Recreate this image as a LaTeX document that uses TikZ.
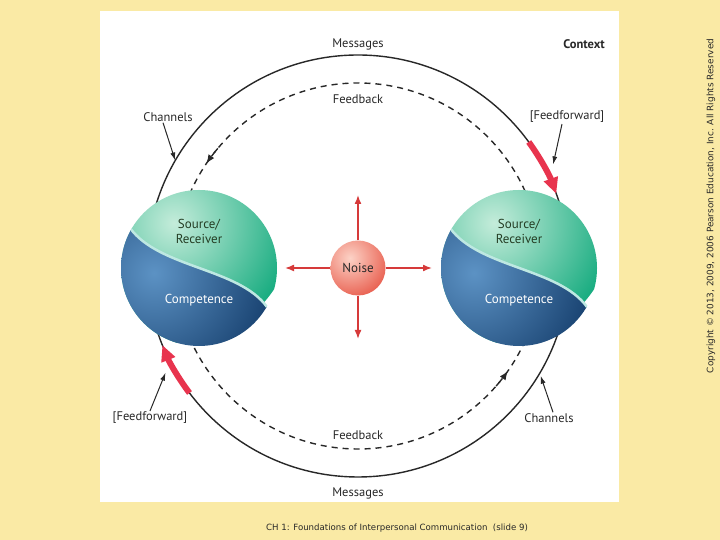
\documentclass[tikz,border=0pt]{standalone}
\usepackage{fontspec}
\setmainfont{PT Sans}
\newfontfamily\slidefont{DejaVu Sans}
\usetikzlibrary{arrows.meta}

\definecolor{paper}{RGB}{250,234,165}
\definecolor{mint}{RGB}{196,236,218}
\definecolor{sea}{RGB}{24,172,128}
\definecolor{skyblue}{RGB}{92,146,196}
\definecolor{navy}{RGB}{16,56,102}
\definecolor{divider}{RGB}{190,232,226}
\definecolor{noisered}{RGB}{214,58,58}
\definecolor{noiselight}{RGB}{252,210,198}
\definecolor{noisedark}{RGB}{232,92,76}
\definecolor{ffred}{RGB}{232,52,78}
\definecolor{ink}{RGB}{40,40,40}

\begin{document}
\begin{tikzpicture}[x=1pt,y=1pt]
	\tikzset{tag/.style={font=\fontsize{12.5}{14}\selectfont, text=ink, inner sep=1pt, align=center},
		balltag/.style={font=\fontsize{13}{15}\selectfont, inner sep=1pt, align=center},
		note/.style={draw=ink, line width=1pt, -{Latex[length=8pt,width=5pt]}},
		msgline/.style={draw=ink, line width=1.4pt},
		fbline/.style={draw=ink, line width=1.4pt, dash pattern=on 6pt off 5pt},
		ffarrow/.style={draw=ffred, line width=6pt, -{Triangle[length=16pt,width=14pt]}},
		noisearrow/.style={draw=noisered, line width=1.6pt, -{Latex[length=9pt,width=7pt]}},
		% shaded ball with green top and blue bottom
		sphere/.style={circle, minimum size=156pt, inner sep=0pt,
			path picture={
				\begin{scope}[shift={(path picture bounding box.center)}]
					\shade[inner color=mint, outer color=sea] (-25,45) circle (120);
					\begin{scope}
						\clip (-69,40) .. controls (-40,0) and (40,0) .. (68,-39) -- (100,-39)
						-- (100,-100) -- (-100,-100) -- (-100,40) -- cycle;
						\shade[inner color=skyblue, outer color=navy] (-45,-5) circle (135);
					\end{scope}
					\draw[divider, line width=2.5pt] (-69,40) .. controls (-40,0) and (40,0) .. (68,-39);
				\end{scope}}},
		noiseball/.style={circle, minimum size=55pt, inner sep=0pt, text=ink,
			font=\fontsize{13}{15}\selectfont,
			path picture={\shade[inner color=noiselight, outer color=noisedark]
				([shift={(-8,10)}]path picture bounding box.center) circle (42);}}}
	
	%Hintergrund
	\fill[paper] (0,0) rectangle (720,540);
	\fill[white] (100,38) rectangle (619,529);
	\coordinate (C) at (358,274);
	
	%Kreise
	\draw[msgline] (C) circle (211);
	\draw[fbline] (C) circle (183);
	\draw[fbline, -{Latex[length=9pt,width=7pt]}] (C) ++(140:183) arc (140:146:183);
	\draw[fbline, -{Latex[length=9pt,width=7pt]}] (C) ++(319:183) arc (319:325:183);
	
	%Feedforward
	\draw[ffarrow] (C) ++(36:211) arc (36:20:211);
	\draw[ffarrow] (C) ++(217:211) arc (217:202:211);
	
	%Kugeln
	\node[sphere] (srcL) at (199,272) {};
	\node[sphere] (srcR) at (519,272) {};
	\node[balltag, text=ink!90!green] (srcLtxt) at ([yshift=37pt]srcL.center) {Source/\\Receiver};
	\node[balltag, text=ink!90!green] (srcRtxt) at ([yshift=37pt]srcR.center) {Source/\\Receiver};
	\node[balltag, text=white] (compL) at ([yshift=-32pt]srcL.center) {Competence};
	\node[balltag, text=white] (compR) at ([yshift=-32pt]srcR.center) {Competence};
	
	%Rauschen
	\node[noiseball] (noise) at (358,272) {Noise};
	\coordinate (nU) at (358,345);
	\coordinate (nD) at (358,201);
	\coordinate (nL) at (285,272);
	\coordinate (nR) at (432,272);
	\draw[noisearrow] (noise.north) -- (nU);
	\draw[noisearrow] (noise.south) -- (nD);
	\draw[noisearrow] (noise.west) -- (nL);
	\draw[noisearrow] (noise.east) -- (nR);
	
	%Beschriftung
	\node[tag] (msgT) at (358,496) {Messages};
	\node[tag] (msgB) at (358,47) {Messages};
	\node[tag] (fbT) at (358,441) {Feedback};
	\node[tag] (fbB) at (358,105) {Feedback};
	\node[tag, font=\fontsize{12.5}{14}\selectfont\bfseries] (ctx) at (584,496) {Context};
	\node[tag] (chT) at (168,423) {Channels};
	\node[tag] (chB) at (549,122) {Channels};
	\node[tag] (ffT) at (567,423) {[Feedforward]};
	\node[tag] (ffB) at (150,122) {[Feedforward]};
	\draw[note] ([xshift=-5pt]chT.south) -- ([shift={(150:211)}]C);
	\draw[note] ([xshift=-5pt]ffT.south) -- ([shift={(27.5:220)}]C);
	\draw[note] (ffB.north) -- ([shift={(209:220)}]C);
	\draw[note] ([xshift=4pt]chB.north) -- ([shift={(-31:213)}]C);
	
	%Fusszeile
	\node[font=\slidefont\fontsize{8.6}{10}\selectfont, text=ink] (foot) at (397,12)
	{CH 1: Foundations of Interpersonal Communication\ \ (slide 9)};
	\node[font=\slidefont\fontsize{8.9}{10}\selectfont, text=ink, rotate=90] (copy) at (711,334)
	{Copyright © 2013, 2009, 2006 Pearson Education, Inc. All Rights Reserved};
\end{tikzpicture}
\end{document}
